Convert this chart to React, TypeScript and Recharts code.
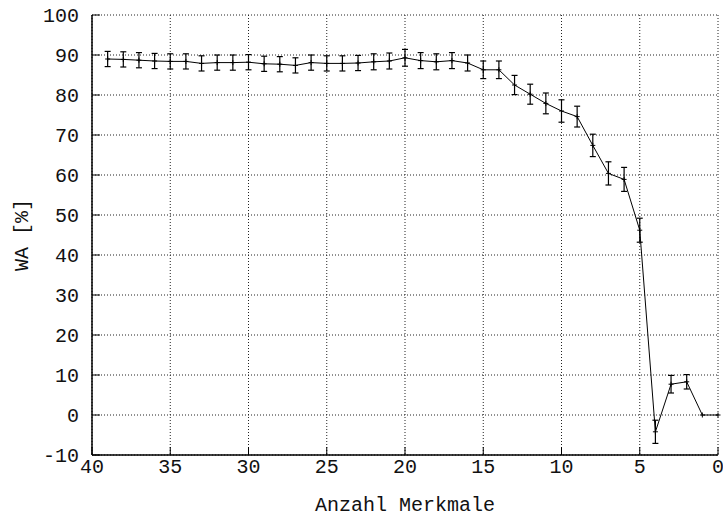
import React from 'react';
import {
  LineChart, Line, XAxis, YAxis, CartesianGrid, ErrorBar, Label,
} from 'recharts';

const features = [39, 38, 37, 36, 35, 34, 33, 32, 31, 30, 29, 28, 27, 26, 25, 24, 23, 22, 21, 20, 19, 18, 17, 16, 15, 14, 13, 12, 11, 10, 9, 8, 7, 6, 5, 4, 3, 2, 1, 0];
const wa = [89.0, 88.9, 88.7, 88.5, 88.4, 88.4, 87.9, 88.1, 88.1, 88.2, 87.8, 87.7, 87.4, 88.1, 87.9, 87.9, 88.0, 88.3, 88.5, 89.3, 88.6, 88.3, 88.6, 88.0, 86.3, 86.3, 82.5, 80.2, 77.9, 76.0, 74.6, 67.4, 60.4, 58.9, 46.2, -4.2, 7.7, 8.3, 0, 0];
const err = [1.9, 1.9, 1.9, 1.9, 1.9, 1.9, 1.9, 1.9, 1.9, 1.9, 1.9, 1.9, 1.9, 1.9, 1.9, 1.9, 1.9, 2.0, 2.0, 2.1, 2.0, 2.0, 2.0, 2.0, 2.2, 2.2, 2.4, 2.5, 2.6, 2.8, 2.6, 2.8, 2.9, 3.0, 3.0, 2.9, 2.2, 1.8, 0, 0];
const xTicks = [0, 5, 10, 15, 20, 25, 30, 35, 40];
const yTicks = [-10, 0, 10, 20, 30, 40, 50, 60, 70, 80, 90, 100];

const data = features.map((f, i) => ({ n: f, wa: wa[i], err: err[i] }));

const FONT = '"Liberation Mono", "DejaVu Sans Mono", monospace';
const tickStyle = { fontFamily: FONT, fontSize: 20, fill: '#111' };

const PlusDot = (props: any) => {
  const { cx, cy } = props;
  if (cx == null || cy == null) return null;
  return (
    <g>
      <line x1={cx - 2.5} y1={cy} x2={cx + 2.5} y2={cy} stroke="#000" strokeWidth={1} />
      <line x1={cx} y1={cy - 2.5} x2={cx} y2={cy + 2.5} stroke="#000" strokeWidth={1} />
    </g>
  );
};

export default function App() {
  return (
    <div style={{ position: 'absolute', left: 0, top: 0, background: '#fff' }}>
      <LineChart
        width={723}
        height={518}
        data={data}
        margin={{ top: 15, right: 5, bottom: 0, left: 0 }}
      >
        <CartesianGrid stroke="#222" strokeDasharray="1 2" strokeWidth={1} />
        <XAxis
          dataKey="n"
          type="number"
          domain={[0, 40]}
          reversed
          ticks={xTicks}
          interval={0}
          height={63}
          tickSize={-8}
          tickMargin={12}
          tick={tickStyle}
          stroke="#000"
          axisLine={{ stroke: '#000', strokeWidth: 1.5 }}
          tickLine={{ stroke: '#000' }}
        >
          <Label
            content={(p: any) => {
              const vb = p.viewBox;
              return (
                <text
                  x={vb.x + vb.width / 2}
                  y={vb.y + 56}
                  textAnchor="middle"
                  style={{ fontFamily: FONT, fontSize: 20, fill: '#111' }}
                >
                  Anzahl Merkmale
                </text>
              );
            }}
          />
        </XAxis>
        <XAxis
          xAxisId="t"
          type="number"
          orientation="top"
          domain={[0, 40]}
          reversed
          ticks={xTicks}
          interval={0}
          height={0}
          tickSize={-8}
          tickFormatter={() => ''}
          axisLine={{ stroke: '#000', strokeWidth: 1.5 }}
          tickLine={{ stroke: '#000' }}
        />
        <YAxis
          type="number"
          domain={[-10, 100]}
          ticks={yTicks}
          interval={0}
          width={92}
          tickSize={-8}
          tickMargin={21}
          tick={tickStyle}
          axisLine={{ stroke: '#000', strokeWidth: 1.5 }}
          tickLine={{ stroke: '#000' }}
        >
          <Label
            content={(p: any) => {
              const vb = p.viewBox;
              const cx = 22;
              const cy = vb.y + vb.height / 2;
              return (
                <text
                  x={cx}
                  y={cy}
                  textAnchor="middle"
                  dominantBaseline="central"
                  transform={`rotate(-90 ${cx} ${cy})`}
                  style={{ fontFamily: FONT, fontSize: 20, fill: '#111' }}
                >
                  WA [%]
                </text>
              );
            }}
          />
        </YAxis>
        <YAxis
          yAxisId="r"
          type="number"
          orientation="right"
          domain={[-10, 100]}
          ticks={yTicks}
          interval={0}
          width={0}
          tickSize={-8}
          tickFormatter={() => ''}
          axisLine={{ stroke: '#000', strokeWidth: 1.5 }}
          tickLine={{ stroke: '#000' }}
        />
        <Line
          type="linear"
          dataKey="wa"
          stroke="#000"
          strokeWidth={1}
          dot={<PlusDot />}
          activeDot={false}
          isAnimationActive={false}
        >
          <ErrorBar dataKey="err" width={3} stroke="#000" strokeWidth={1.2} direction="y" />
        </Line>
      </LineChart>
    </div>
  );
}
